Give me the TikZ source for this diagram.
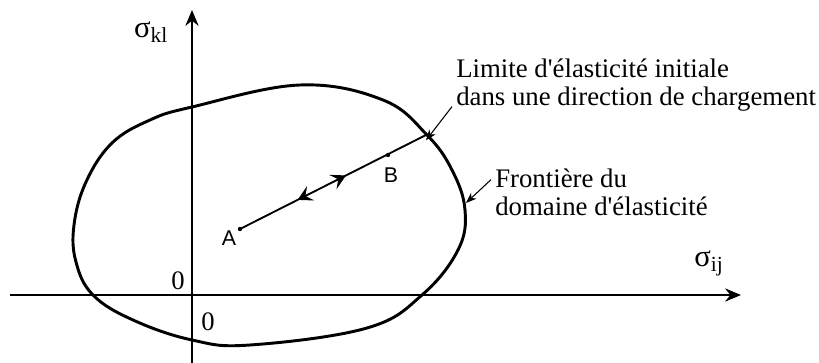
\documentclass[tikz,border=0pt]{standalone}
\usepackage{fontspec}
\setmainfont{Liberation Serif}
\newfontfamily\helv{Liberation Sans}
\newfontfamily\plainserif{Liberation Serif}[Mapping=]
\newcommand{\apos}{{\plainserif\symbol{39}}}
\usetikzlibrary{arrows.meta,decorations.markings}

\tikzset{
  axis/.style={line width=1.1pt, -{Stealth[length=12pt,width=10pt,inset=4pt]}},
  boundary/.style={line width=2.2pt},
  path/.style={line width=1.4pt},
  leader/.style={line width=0.8pt, -{Stealth[length=8pt,width=6pt,inset=2.5pt]}},
  lbl/.style={font=\fontsize{20.1}{21}\selectfont, align=left, inner sep=0pt},
  pt/.style={font=\helv\fontsize{16}{18}\selectfont, inner sep=1pt},
  sig/.style={font=\fontsize{23}{24}\selectfont, inner sep=0pt},
  zero/.style={font=\fontsize{20}{22}\selectfont, inner sep=0pt},
}

\begin{document}
\begin{tikzpicture}[x=0.75pt,y=-0.75pt]
\useasboundingbox (0,0) rectangle (819,363);

% Axes
\coordinate (xs) at (10,295);
\coordinate (xe) at (741,295);
\coordinate (ys) at (192,363);
\coordinate (ye) at (192,10);
\draw[axis] (xs) -- (xe);
\draw[axis] (ys) -- (ye);

\node[sig] (skl) at (151,32) {σ\textsubscript{kl}};
\node[sig] (sij) at (709,263) {σ\textsubscript{ij}};
\node[zero] (o1) at (178,281) {0};
\node[zero] (o2) at (208,322) {0};

% Elastic domain boundary
\draw[boundary] plot[smooth cycle, tension=0.65] coordinates {
  (192,107) (300,85) (383,100) (427,135) (452,170) (465,210)
  (458,250) (422,295) (367,328) (250,345) (192,340) (133,320)
  (93,295) (76,262) (74,225) (86,182) (112,143) (150,120)};

% Loading path
\coordinate (a) at (240,229);
\coordinate (b) at (388,155);
\coordinate (lim) at (426,135);
\draw[path, decoration={markings,
    mark=at position 0.38 with {\arrow{Stealth[reversed,length=11pt,width=12pt,inset=4.5pt]}},
    mark=at position 0.57 with {\arrow{Stealth[length=11pt,width=12pt,inset=4.5pt]}}},
  postaction={decorate}] (a) -- (lim);
\fill (a) circle (2.2);
\fill (b) circle (2.2);
\node[pt] (A) at (229,238) {A};
\node[pt] (B) at (391,175) {B};

% Labels
\node[lbl, anchor=north west] (limtxt) at (456,59)
  {Limite d\apos élasticité initiale\\dans une direction de chargement};
\node[lbl, anchor=north west] (frtxt) at (495,169)
  {Frontière du\\domaine d\apos élasticité};
\draw[leader] ([xshift=-3pt,yshift=4pt]limtxt.south west) -- ([yshift=-4pt]lim);
\draw[leader] ([xshift=-3pt,yshift=-8pt]frtxt.north west) -- (466,203);

\end{tikzpicture}
\end{document}
